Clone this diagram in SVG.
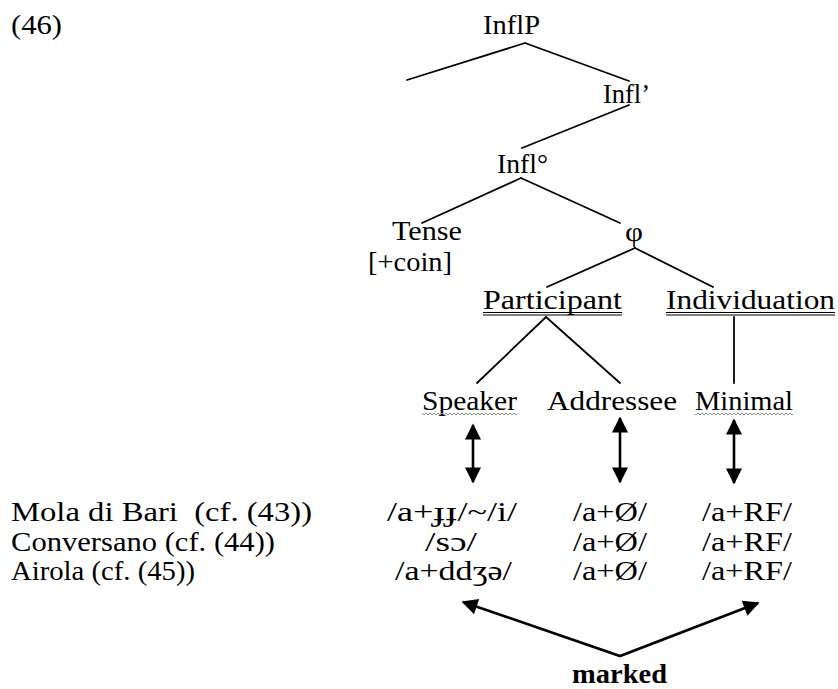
<svg xmlns="http://www.w3.org/2000/svg" width="838" height="689" viewBox="0 0 838 689">
<style>
text{font-family:"Liberation Serif","Times New Roman",serif;font-size:28px;fill:#000;white-space:pre}
.b{font-weight:bold}
.e{stroke:#000;stroke-width:1.8;fill:none;stroke-linecap:round}
.a{stroke:#000;stroke-width:2.6;fill:none}
.u{stroke:#000;stroke-width:1;fill:none}
</style>
<defs>
<marker id="ah" viewBox="0 0 10 10" refX="9" refY="5" markerWidth="17" markerHeight="16" markerUnits="userSpaceOnUse" orient="auto-start-reverse">
<path d="M0,0 L10,5 L0,10 z" fill="#000"/>
</marker>
<pattern id="wave" x="0" y="0" width="4" height="4" patternUnits="userSpaceOnUse">
<path d="M0,3 L2,1 L4,3" stroke="#808080" stroke-width="0.9" fill="none"/>
</pattern>
</defs>

<g id="label46"><text x="11" y="34" textLength="51" lengthAdjust="spacingAndGlyphs">(46)</text></g>

<g id="connectors">
<line class="e" x1="525" y1="43" x2="407" y2="80"/>
<line class="e" x1="525" y1="43" x2="629" y2="81"/>
<line class="e" x1="629" y1="105" x2="522" y2="148"/>
<line class="e" x1="521" y1="178" x2="422" y2="223"/>
<line class="e" x1="521" y1="178" x2="620" y2="223"/>
<line class="e" x1="635" y1="248" x2="547" y2="287"/>
<line class="e" x1="635" y1="248" x2="713" y2="287"/>
<line class="e" x1="546" y1="317" x2="477" y2="383"/>
<line class="e" x1="546" y1="317" x2="620" y2="383"/>
<line class="e" x1="734" y1="317" x2="734" y2="383"/>
<line class="a" x1="473" y1="425" x2="473" y2="482" marker-start="url(#ah)" marker-end="url(#ah)"/>
<line class="a" x1="620" y1="418" x2="620" y2="482" marker-start="url(#ah)" marker-end="url(#ah)"/>
<line class="a" x1="734" y1="420" x2="734" y2="483" marker-start="url(#ah)" marker-end="url(#ah)"/>
<polyline class="a" points="463,602 620,656 758,603" marker-start="url(#ah)" marker-end="url(#ah)"/>
</g>

<g id="InflP"><text x="483" y="34" textLength="57" lengthAdjust="spacingAndGlyphs">InflP</text></g>
<g id="InflBar"><text x="603" y="103" textLength="47" lengthAdjust="spacingAndGlyphs">Infl’</text></g>
<g id="InflHead"><text x="497" y="173" textLength="51" lengthAdjust="spacingAndGlyphs">Infl°</text></g>
<g id="Tense">
<text x="392" y="240" textLength="70" lengthAdjust="spacingAndGlyphs">Tense</text>
<text x="368" y="271" textLength="84" lengthAdjust="spacingAndGlyphs">[+coin]</text>
</g>
<g id="phi"><text x="625" y="241" textLength="18" lengthAdjust="spacingAndGlyphs">φ</text></g>
<g id="Participant">
<text x="483" y="309" textLength="139" lengthAdjust="spacingAndGlyphs">Participant</text>
<line class="u" x1="483" y1="312.5" x2="622" y2="312.5"/>
<line class="u" x1="483" y1="315" x2="622" y2="315"/>
</g>
<g id="Individuation">
<text x="666" y="309" textLength="169" lengthAdjust="spacingAndGlyphs">Individuation</text>
<line class="u" x1="666" y1="312.5" x2="835" y2="312.5"/>
<line class="u" x1="666" y1="315" x2="835" y2="315"/>
</g>
<g id="Speaker">
<text x="422" y="410" textLength="95" lengthAdjust="spacingAndGlyphs">Speaker</text>
<rect x="422" y="412" width="95" height="4" fill="url(#wave)"/>
</g>
<g id="Addressee"><text x="547" y="410" textLength="130" lengthAdjust="spacingAndGlyphs">Addressee</text></g>
<g id="Minimal">
<text x="695" y="410" textLength="98" lengthAdjust="spacingAndGlyphs">Minimal</text>
<rect x="695" y="412" width="98" height="4" fill="url(#wave)"/>
</g>

<g id="MolaDiBari">
<text x="11" y="521" textLength="301" lengthAdjust="spacingAndGlyphs">Mola di Bari  (cf. (43))</text>
<text x="387" y="521" textLength="130" lengthAdjust="spacingAndGlyphs">/a+ɟɟ/~/i/</text>
<text x="573" y="521" textLength="74" lengthAdjust="spacingAndGlyphs">/a+Ø/</text>
<text x="702" y="521" textLength="90" lengthAdjust="spacingAndGlyphs">/a+RF/</text>
</g>
<g id="Conversano">
<text x="11" y="551" textLength="264" lengthAdjust="spacingAndGlyphs">Conversano (cf. (44))</text>
<text x="425" y="551" textLength="52" lengthAdjust="spacingAndGlyphs">/sɔ/</text>
<text x="573" y="551" textLength="74" lengthAdjust="spacingAndGlyphs">/a+Ø/</text>
<text x="702" y="551" textLength="90" lengthAdjust="spacingAndGlyphs">/a+RF/</text>
</g>
<g id="Airola">
<text x="11" y="580" textLength="184" lengthAdjust="spacingAndGlyphs">Airola (cf. (45))</text>
<text x="395" y="580" textLength="117" lengthAdjust="spacingAndGlyphs">/a+ddʒə/</text>
<text x="573" y="580" textLength="74" lengthAdjust="spacingAndGlyphs">/a+Ø/</text>
<text x="702" y="580" textLength="90" lengthAdjust="spacingAndGlyphs">/a+RF/</text>
</g>
<g id="marked"><text class="b" x="572" y="683" textLength="95" lengthAdjust="spacingAndGlyphs">marked</text></g>
</svg>
